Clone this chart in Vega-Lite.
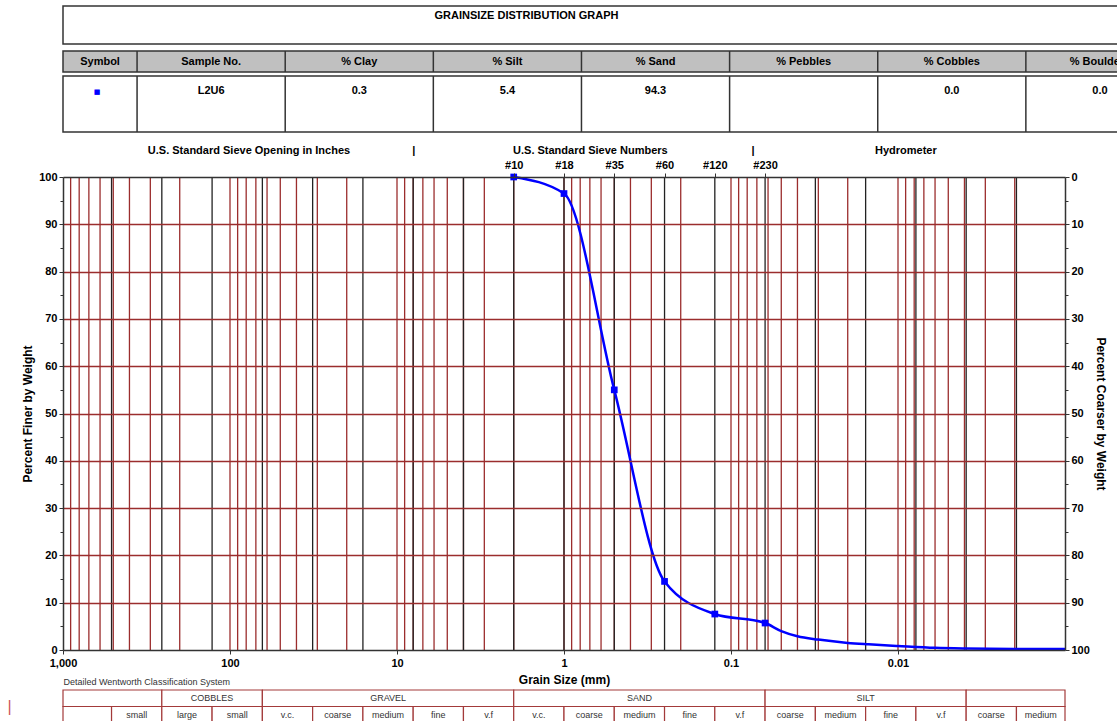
{
  "$schema": "https://vega.github.io/schema/vega-lite/v6.json",
  "padding": {"left": 5, "top": 5, "right": 1, "bottom": 0},
  "background": "white",
  "config": {
    "font": "Liberation Sans",
    "view": {"stroke": null},
    "axis": {
      "labelFont": "Liberation Sans", "titleFont": "Liberation Sans",
      "labelFontSize": 11, "labelFontWeight": "bold", "labelColor": "#000",
      "titleFontSize": 12, "titleFontWeight": "bold", "titleColor": "#000",
      "labelFlush": false, "labelOverlap": false, "labelBound": false, "labelLimit": 0,
      "tickColor": "#333", "domainColor": "#333", "domainWidth": 1.5
    },
    "text": {"font": "Liberation Sans"}
  },
  "datasets": {
    "summary": [
      {"column": "Symbol", "value": ""},
      {"column": "Sample No.", "value": "L2U6"},
      {"column": "% Clay", "value": "0.3"},
      {"column": "% Silt", "value": "5.4"},
      {"column": "% Sand", "value": "94.3"},
      {"column": "% Pebbles", "value": ""},
      {"column": "% Cobbles", "value": "0.0"},
      {"column": "% Boulders", "value": "0.0"}
    ],
    "curve": [
      {"mm": 2.0, "pct": 100.0, "sieve": "#10"},
      {"mm": 1.0, "pct": 96.5, "sieve": "#18"},
      {"mm": 0.5, "pct": 55.0, "sieve": "#35"},
      {"mm": 0.25, "pct": 14.5, "sieve": "#60"},
      {"mm": 0.125, "pct": 7.6, "sieve": "#120"},
      {"mm": 0.0625, "pct": 5.7, "sieve": "#230"},
      {"mm": 0.05, "pct": 4.0},
      {"mm": 0.04, "pct": 2.9},
      {"mm": 0.03, "pct": 2.2},
      {"mm": 0.02, "pct": 1.5},
      {"mm": 0.015, "pct": 1.2},
      {"mm": 0.01, "pct": 0.85},
      {"mm": 0.006, "pct": 0.45},
      {"mm": 0.004, "pct": 0.3},
      {"mm": 0.002, "pct": 0.2},
      {"mm": 0.001, "pct": 0.2}
    ],
    "gridRed": [
      {"mm": 900}, {"mm": 800}, {"mm": 700}, {"mm": 600}, {"mm": 500}, {"mm": 400}, {"mm": 300}, {"mm": 200},
      {"mm": 100}, {"mm": 90}, {"mm": 80}, {"mm": 70}, {"mm": 60}, {"mm": 50}, {"mm": 40}, {"mm": 30}, {"mm": 20},
      {"mm": 10}, {"mm": 9}, {"mm": 8}, {"mm": 7}, {"mm": 6}, {"mm": 5}, {"mm": 4}, {"mm": 3}, {"mm": 2},
      {"mm": 1}, {"mm": 0.9}, {"mm": 0.8}, {"mm": 0.7}, {"mm": 0.6}, {"mm": 0.5}, {"mm": 0.4}, {"mm": 0.3}, {"mm": 0.2},
      {"mm": 0.1}, {"mm": 0.09}, {"mm": 0.08}, {"mm": 0.07}, {"mm": 0.06}, {"mm": 0.05}, {"mm": 0.04}, {"mm": 0.03}, {"mm": 0.02},
      {"mm": 0.01}, {"mm": 0.009}, {"mm": 0.008}, {"mm": 0.007}, {"mm": 0.006}, {"mm": 0.005}, {"mm": 0.004}, {"mm": 0.003}, {"mm": 0.002}
    ],
    "gridBlack": [
      {"mm": 512}, {"mm": 256}, {"mm": 128}, {"mm": 64}, {"mm": 32}, {"mm": 16}, {"mm": 8}, {"mm": 4}, {"mm": 2}, {"mm": 1},
      {"mm": 0.5}, {"mm": 0.25}, {"mm": 0.125}, {"mm": 0.0625}, {"mm": 0.03125}, {"mm": 0.015625}, {"mm": 0.0078125},
      {"mm": 0.00390625}, {"mm": 0.001953125}
    ],
    "wentworth": [
      {"row": "class", "coarse": 1000, "fine": 256, "label": ""},
      {"row": "class", "coarse": 256, "fine": 64, "label": "COBBLES"},
      {"row": "class", "coarse": 64, "fine": 2, "label": "GRAVEL"},
      {"row": "class", "coarse": 2, "fine": 0.0625, "label": "SAND"},
      {"row": "class", "coarse": 0.0625, "fine": 0.00390625, "label": "SILT"},
      {"row": "class", "coarse": 0.00390625, "fine": 0.001, "label": ""},
      {"row": "sub", "coarse": 1000, "fine": 512, "label": ""},
      {"row": "sub", "coarse": 512, "fine": 256, "label": "small"},
      {"row": "sub", "coarse": 256, "fine": 128, "label": "large"},
      {"row": "sub", "coarse": 128, "fine": 64, "label": "small"},
      {"row": "sub", "coarse": 64, "fine": 32, "label": "v.c."},
      {"row": "sub", "coarse": 32, "fine": 16, "label": "coarse"},
      {"row": "sub", "coarse": 16, "fine": 8, "label": "medium"},
      {"row": "sub", "coarse": 8, "fine": 4, "label": "fine"},
      {"row": "sub", "coarse": 4, "fine": 2, "label": "v.f"},
      {"row": "sub", "coarse": 2, "fine": 1, "label": "v.c."},
      {"row": "sub", "coarse": 1, "fine": 0.5, "label": "coarse"},
      {"row": "sub", "coarse": 0.5, "fine": 0.25, "label": "medium"},
      {"row": "sub", "coarse": 0.25, "fine": 0.125, "label": "fine"},
      {"row": "sub", "coarse": 0.125, "fine": 0.0625, "label": "v.f"},
      {"row": "sub", "coarse": 0.0625, "fine": 0.03125, "label": "coarse"},
      {"row": "sub", "coarse": 0.03125, "fine": 0.015625, "label": "medium"},
      {"row": "sub", "coarse": 0.015625, "fine": 0.0078125, "label": "fine"},
      {"row": "sub", "coarse": 0.0078125, "fine": 0.00390625, "label": "v.f"},
      {"row": "sub", "coarse": 0.00390625, "fine": 0.001953125, "label": "coarse"},
      {"row": "sub", "coarse": 0.001953125, "fine": 0.001, "label": "medium"}
    ]
  },
  "spacing": 0,
  "vconcat": [
    {
      "width": 1111, "height": 38,
      "title": {"text": " ", "orient": "bottom", "fontSize": 3.6, "offset": 0},
      "view": {"stroke": "#333", "strokeWidth": 1.5},
      "data": {"values": [{"title": "GRAINSIZE DISTRIBUTION GRAPH"}]},
      "mark": {"type": "text", "fontWeight": "bold", "fontSize": 11, "dx": -92, "dy": -9, "color": "#000"},
      "encoding": {"text": {"field": "title"}}
    },
    {
      "width": 1111, "height": 21,
      "view": {"fill": "#c0c0c0", "stroke": "#333", "strokeWidth": 1.5},
      "data": {"name": "summary"},
      "layer": [
        {
          "transform": [{"filter": "datum.column != 'Symbol'"}],
          "mark": {"type": "rule", "color": "#333", "strokeWidth": 1.5},
          "encoding": {"x": {"field": "column", "type": "nominal", "bandPosition": 0, "axis": null,
            "scale": {"domain": ["Symbol", "Sample No.", "Sample No. ·", "% Clay", "% Clay ·", "% Silt", "% Silt ·", "% Sand", "% Sand ·", "% Pebbles", "% Pebbles ·", "% Cobbles", "% Cobbles ·", "% Boulders", "% Boulders ·"], "paddingInner": 0, "paddingOuter": 0}}}
        },
        {
          "transform": [{"filter": "datum.column != 'Symbol'"}],
          "mark": {"type": "text", "fontWeight": "bold", "fontSize": 11, "color": "#000"},
          "encoding": {
            "x": {"field": "column", "type": "nominal", "bandPosition": 1, "axis": null},
            "y": {"datum": "header", "type": "nominal", "axis": null, "scale": {"paddingInner": 0, "paddingOuter": 0}},
            "text": {"field": "column"}
          }
        },
        {
          "transform": [{"filter": "datum.column == 'Symbol'"}],
          "mark": {"type": "text", "fontWeight": "bold", "fontSize": 11, "color": "#000"},
          "encoding": {
            "x": {"field": "column", "type": "nominal", "bandPosition": 0.5, "axis": null},
            "y": {"datum": "header", "type": "nominal", "axis": null},
            "text": {"field": "column"}
          }
        }
      ]
    },
    {
      "width": 1111, "height": 56,
      "title": {"text": " ", "orient": "bottom", "fontSize": 8, "offset": 2.5},
      "view": {"fill": "white", "stroke": "#333", "strokeWidth": 1.5},
      "data": {"name": "summary"},
      "layer": [
        {
          "transform": [{"filter": "datum.column != 'Symbol'"}],
          "mark": {"type": "rule", "color": "#333", "strokeWidth": 1.5},
          "encoding": {"x": {"field": "column", "type": "nominal", "bandPosition": 0, "axis": null,
            "scale": {"domain": ["Symbol", "Sample No.", "Sample No. ·", "% Clay", "% Clay ·", "% Silt", "% Silt ·", "% Sand", "% Sand ·", "% Pebbles", "% Pebbles ·", "% Cobbles", "% Cobbles ·", "% Boulders", "% Boulders ·"], "paddingInner": 0, "paddingOuter": 0}}}
        },
        {
          "transform": [{"filter": "datum.column != 'Symbol'"}],
          "mark": {"type": "text", "fontWeight": "bold", "fontSize": 11, "color": "#000", "dy": -13},
          "encoding": {
            "x": {"field": "column", "type": "nominal", "bandPosition": 1, "axis": null},
            "y": {"datum": "data", "type": "nominal", "axis": null, "scale": {"paddingInner": 0, "paddingOuter": 0}},
            "text": {"field": "value"}
          }
        },
        {
          "transform": [{"filter": "datum.column == 'Symbol'"}],
          "mark": {"type": "text", "fontSize": 7, "font": "DejaVu Sans", "color": "#0000ff", "dy": -12, "dx": -3},
          "encoding": {
            "x": {"field": "column", "type": "nominal", "bandPosition": 0.5, "axis": null},
            "y": {"datum": "data", "type": "nominal", "axis": null},
            "text": {"value": "■"}
          }
        }
      ]
    },
    {
      "width": 1002, "height": 473,
      "resolve": {"axis": {"x": "independent", "y": "independent"}},
      "layer": [
        {
          "data": {"name": "gridRed"},
          "mark": {"type": "rule", "color": "#9b2d2d", "strokeWidth": 1.3},
          "encoding": {
            "x": {"field": "mm", "type": "quantitative",
              "scale": {"type": "log", "domain": [1000, 0.001], "nice": false},
              "axis": {"orient": "top", "values": [77.5, 8, 0.7, 0.0743, 0.00903],
                "labelExpr": "datum.value > 50 ? 'U.S. Standard Sieve Opening in Inches' : datum.value > 5 ? '|' : datum.value > 0.5 ? 'U.S. Standard Sieve Numbers' : datum.value > 0.05 ? '|' : 'Hydrometer'",
                "ticks": false, "domain": false, "offset": 20, "labelPadding": 2, "title": null, "grid": true, "gridOpacity": 0}},
            "y": {"datum": 0, "type": "quantitative", "scale": {"domain": [0, 100], "nice": false},
              "axis": {"orient": "left", "labels": false, "ticks": false, "domain": false, "grid": true, "gridOpacity": 0,
                "minExtent": 0, "title": " ", "titleFontSize": 10, "titlePadding": 48}},
            "y2": {"datum": 100}
          }
        },
        {
          "data": {"name": "gridBlack"},
          "mark": {"type": "rule", "color": "#222", "strokeWidth": 1.3},
          "encoding": {
            "x": {"field": "mm", "type": "quantitative",
              "scale": {"type": "log", "domain": [1000, 0.001], "nice": false},
              "axis": {"orient": "bottom", "labels": false, "ticks": false, "domain": false, "grid": true, "gridOpacity": 0,
                "title": "Detailed Wentworth Classification System", "titleAnchor": "start",
                "titleFontSize": 9, "titleFontWeight": "normal", "titleColor": "#333", "titlePadding": 27}},
            "y": {"datum": 0, "type": "quantitative", "axis": null, "scale": {"domain": [0, 100], "nice": false}},
            "y2": {"datum": 100}
          }
        },
        {
          "data": {"name": "curve"},
          "mark": {"type": "line", "color": "#0000ff", "strokeWidth": 2.5, "interpolate": "monotone"},
          "encoding": {
            "x": {"field": "mm", "type": "quantitative",
              "scale": {"type": "log", "domain": [1000, 0.001], "nice": false},
              "axis": {"orient": "bottom", "values": [1000, 100, 10, 1, 0.1, 0.01], "format": ",", "tickSize": 4, "labelPadding": 3,
                "grid": true, "gridOpacity": 0,
                "title": "Grain Size (mm)", "titlePadding": 6, "zindex": 1}},
            "y": {"field": "pct", "type": "quantitative",
              "scale": {"domain": [0, 100], "nice": false},
              "axis": {"orient": "left", "values": [0, 5, 10, 15, 20, 25, 30, 35, 40, 45, 50, 55, 60, 65, 70, 75, 80, 85, 90, 95, 100],
                "labelExpr": "datum.value % 10 == 0 ? datum.label : ''",
                "tickSize": {"condition": {"test": "datum.value % 10 == 0", "value": 4}, "value": 3},
                "grid": true, "gridColor": "#9b2d2d", "gridWidth": 1.3,
                "gridOpacity": {"condition": {"test": "datum.value % 10 == 0 && datum.value > 0 && datum.value < 100", "value": 1}, "value": 0},
                "labelPadding": 2, "title": "Percent Finer by Weight", "titlePadding": 4, "zindex": 1}}
          }
        },
        {
          "data": {"name": "curve"},
          "transform": [{"filter": "isValid(datum.sieve)"}],
          "mark": {"type": "square", "color": "#0000ff", "size": 45, "opacity": 1},
          "encoding": {
            "x": {"field": "mm", "type": "quantitative",
              "scale": {"type": "log", "domain": [1000, 0.001], "nice": false},
              "axis": {"orient": "top", "values": [2, 1, 0.5, 0.25, 0.125, 0.0625],
                "labelExpr": "datum.value == 2 ? '#10' : datum.value == 1 ? '#18' : datum.value == 0.5 ? '#35' : datum.value == 0.25 ? '#60' : datum.value == 0.125 ? '#120' : '#230'",
                "grid": true, "gridOpacity": 0,
                "tickSize": 4, "labelPadding": 3, "title": null, "zindex": 1}},
            "y": {"field": "pct", "type": "quantitative",
              "scale": {"domain": [0, 100], "nice": false},
              "axis": {"orient": "right", "values": [0, 5, 10, 15, 20, 25, 30, 35, 40, 45, 50, 55, 60, 65, 70, 75, 80, 85, 90, 95, 100],
                "labelExpr": "datum.value % 10 == 0 ? format(100 - datum.value, 'd') : ''",
                "tickSize": {"condition": {"test": "datum.value % 10 == 0", "value": 4}, "value": 3},
                "grid": true, "gridOpacity": 0,
                "labelPadding": 2, "title": "Percent Coarser by Weight", "titlePadding": 4, "zindex": 1}}
          }
        }
      ]
    },
    {
      "width": 1002, "height": 33,
      "title": {"text": " ", "fontSize": 2.5, "offset": 0},
      "data": {"name": "wentworth"},
      "encoding": {"y": {"field": "row", "type": "nominal", "sort": ["class", "sub"], "scale": {"paddingInner": 0, "paddingOuter": 0},
        "axis": {"labels": false, "ticks": false, "domain": false, "grid": false, "minExtent": 0,
          "title": "|", "titleAngle": 0, "titleFontSize": 16, "titleFontWeight": "normal", "titleColor": "#cc5555",
          "titlePadding": 54, "titleY": 24}}},
      "layer": [
        {
          "mark": {"type": "rect", "fill": "white", "stroke": "#a33a3a", "strokeWidth": 1.2},
          "encoding": {
            "x": {"field": "coarse", "type": "quantitative", "scale": {"type": "log", "domain": [1000, 0.001], "nice": false}, "axis": null},
            "x2": {"field": "fine"}
          }
        },
        {
          "transform": [{"calculate": "sqrt(datum.coarse * datum.fine)", "as": "labelAt"}],
          "mark": {"type": "text", "fontSize": 9, "font": "Liberation Sans", "color": "#333"},
          "encoding": {
            "x": {"field": "labelAt", "type": "quantitative", "scale": {"type": "log", "domain": [1000, 0.001], "nice": false}, "axis": null},
            "text": {"field": "label"}
          }
        }
      ]
    }
  ]
}
